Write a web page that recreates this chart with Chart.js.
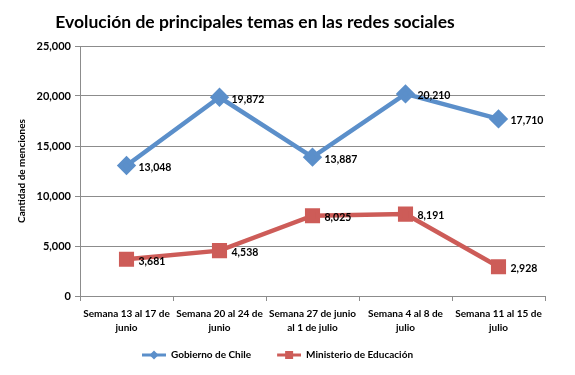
<!DOCTYPE html>
<html>
<head>
<meta charset="utf-8">
<script src="https://cdn.jsdelivr.net/npm/chart.js@4"></script>
<style>
  html, body { margin: 0; padding: 0; background: #fff; }
  #wrap { width: 575px; height: 375px; }
</style>
</head>
<body>
<div id="wrap"><canvas id="chart" width="575" height="375"></canvas></div>
<script>
// datos
const semanas = [
  ['Semana 13 al 17 de', 'junio'],
  ['Semana 20 al 24 de', 'junio'],
  ['Semana 27 de junio', 'al 1 de julio'],
  ['Semana 4 al 8 de', 'julio'],
  ['Semana 11 al 15 de', 'julio']
];
const gobierno = [13048, 19872, 13887, 20210, 17710];
const ministerio = [3681, 4538, 8025, 8191, 2928];
const yTicks = [0, 5000, 10000, 15000, 20000, 25000];

const FONT = 'Lato, "DejaVu Sans", sans-serif';
const AZUL = '#5B8FCA';
const ROJO = '#CD5C58';
const GRIS = '#8C8C8C';
const fmt = new Intl.NumberFormat('en-US');

// icono de leyenda: linea con marcador (con margen vacio a la izquierda)
function legendIcon(color, shape) {
  const c = document.createElement('canvas');
  c.width = 34; c.height = 12;
  const g = c.getContext('2d');
  g.strokeStyle = color; g.lineWidth = 3;
  g.beginPath(); g.moveTo(10, 6); g.lineTo(34, 6); g.stroke();
  g.fillStyle = color;
  if (shape === 'diamond') {
    g.beginPath(); g.moveTo(22, 1.5); g.lineTo(26.5, 6); g.lineTo(22, 10.5); g.lineTo(17.5, 6); g.closePath(); g.fill();
  } else {
    g.fillRect(18, 2, 8, 8);
  }
  return c;
}

// titulo y etiquetas de datos
const extras = {
  id: 'extras',
  afterDraw(chart) {
    const ctx = chart.ctx;
    ctx.save();
    ctx.fillStyle = '#000';
    ctx.font = 'bold 17.5px ' + FONT;
    ctx.textAlign = 'center';
    ctx.textBaseline = 'middle';
    ctx.fillText('Evolución de principales temas en las redes sociales', 255, 22);

    ctx.font = 'bold 10.5px ' + FONT;
    ctx.textAlign = 'left';
    chart.data.datasets.forEach((ds, i) => {
      chart.getDatasetMeta(i).data.forEach((pt, j) => {
        ctx.fillText(fmt.format(ds.data[j]), pt.x + 12, pt.y + 2);
      });
    });
    ctx.restore();
  }
};

new Chart(document.getElementById('chart'), {
  type: 'line',
  data: {
    labels: semanas,
    datasets: [
      {
        label: 'Gobierno de Chile',
        data: gobierno,
        borderColor: AZUL,
        backgroundColor: AZUL,
        borderWidth: 4.5,
        pointStyle: 'rectRot',
        pointRadius: 6.5,
        pointHoverRadius: 6.5,
        tension: 0
      },
      {
        label: 'Ministerio de Educación',
        data: ministerio,
        borderColor: ROJO,
        backgroundColor: ROJO,
        borderWidth: 4.5,
        pointStyle: 'rect',
        pointRadius: 7.5,
        pointHoverRadius: 7.5,
        tension: 0
      }
    ]
  },
  options: {
    responsive: false,
    animation: false,
    layout: { padding: { top: 46, right: 30, bottom: 5, left: 0 } },
    plugins: {
      tooltip: { enabled: false },
      legend: {
        position: 'bottom',
        labels: {
          usePointStyle: true,
          pointStyleWidth: 34,
          padding: 16,
          color: '#000',
          font: { family: FONT, size: 10, weight: 'bold' },
          generateLabels(chart) {
            return chart.data.datasets.map((ds, i) => ({
              text: ds.label,
              pointStyle: legendIcon(ds.borderColor, i === 0 ? 'diamond' : 'square'),
              fillStyle: ds.borderColor,
              strokeStyle: ds.borderColor,
              lineWidth: 0,
              datasetIndex: i,
              hidden: false
            }));
          }
        }
      }
    },
    scales: {
      x: {
        offset: true,
        afterFit(scale) { scale.height = 38; },
        grid: {
          offset: true,
          drawOnChartArea: false,
          color: GRIS,
          tickLength: 5
        },
        border: { color: GRIS, width: 1 },
        ticks: {
          color: '#000',
          maxRotation: 0,
          autoSkip: false,
          padding: 6,
          font: { family: FONT, size: 10, weight: 'bold', lineHeight: 1.4 }
        }
      },
      y: {
        min: 0,
        max: 25000,
        afterFit(scale) { scale.width = 80; },
        afterBuildTicks(scale) { scale.ticks = yTicks.map(v => ({ value: v })); },
        grid: { color: GRIS, tickLength: 5 },
        border: { color: GRIS, width: 1 },
        ticks: {
          color: '#000',
          padding: 4,
          font: { family: FONT, size: 11, weight: 'bold' },
          callback: v => fmt.format(v)
        },
        title: {
          display: true,
          text: 'Cantidad de menciones',
          color: '#000',
          padding: { top: 16, bottom: 4 },
          font: { family: FONT, size: 10, weight: 'bold' }
        }
      }
    }
  },
  plugins: [extras]
});
</script>
</body>
</html>
